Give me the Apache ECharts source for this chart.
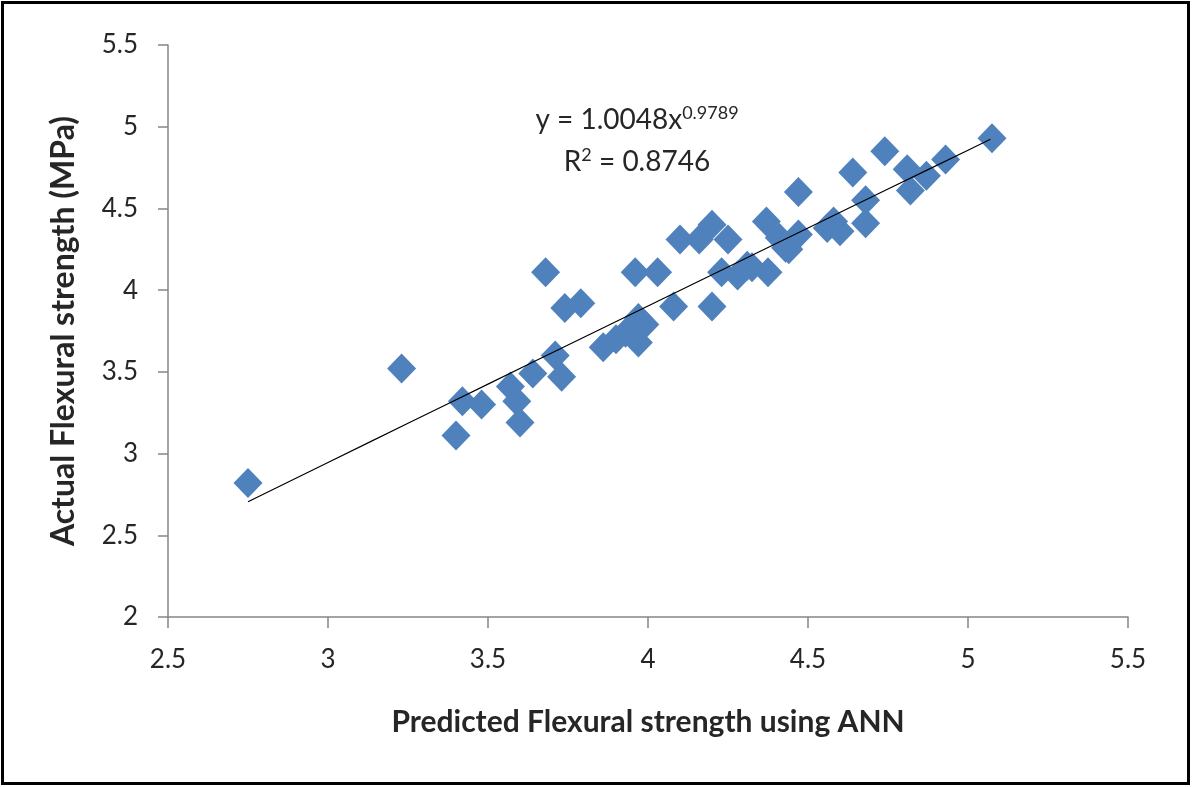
<!DOCTYPE html>
<html>
<head>
<meta charset="utf-8">
<script src="https://cdn.jsdelivr.net/npm/echarts@6/dist/echarts.min.js"></script>
<style>
  html, body { margin: 0; padding: 0; background: #fff; }
  #chart { width: 1192px; height: 787px; }
</style>
</head>
<body>
<div id="chart"></div>
<script>
// Predicted (ANN) vs actual flexural strength, MPa
const predicted = [
  2.75, 3.23, 3.40, 3.42, 3.48, 3.57, 3.59, 3.60, 3.64, 3.68,
  3.71, 3.73, 3.74, 3.79, 3.86, 3.90, 3.93, 3.97, 3.99, 3.97,
  3.96, 4.03, 4.08, 4.10, 4.16, 4.20, 4.25, 4.20, 4.23, 4.28,
  4.325, 4.375, 4.31, 4.37, 4.41, 4.44, 4.47, 4.47, 4.56, 4.60,
  4.58, 4.64, 4.68, 4.68, 4.74, 4.81, 4.82, 4.87, 4.93, 5.075,
  4.43
];
const actual = [
  2.82, 3.52, 3.11, 3.32, 3.30, 3.41, 3.32, 3.19, 3.49, 4.11,
  3.60, 3.47, 3.89, 3.92, 3.65, 3.70, 3.74, 3.83, 3.79, 3.68,
  4.11, 4.11, 3.90, 4.31, 4.31, 4.40, 4.31, 3.90, 4.11, 4.09,
  4.14, 4.11, 4.15, 4.42, 4.32, 4.25, 4.34, 4.60, 4.38, 4.36,
  4.42, 4.72, 4.55, 4.41, 4.85, 4.74, 4.61, 4.70, 4.80, 4.93,
  4.26
];

// Power trendline y = a * x^b, R² as reported
const fitA = 1.0048;
const fitB = 0.9789;
const fitR2 = 0.8746;
const trendXs = [2.75, 3.0, 3.25, 3.5, 3.75, 4.0, 4.25, 4.5, 4.75, 5.0, 5.07];

const xTicks = { min: 2.5, max: 5.5, interval: 0.5 };
const yTicks = { min: 2, max: 5.5, interval: 0.5 };

const points = predicted.map((x, i) => [x, actual[i]]);
const trend = trendXs.map(x => [x, fitA * Math.pow(x, fitB)]);

const font = 'Lato, "Open Sans", sans-serif';
const textColor = '#262626';
const axisGrey = '#868686';

const chart = echarts.init(document.getElementById('chart'), null, { renderer: 'canvas' });

const eqRich = {
  b: { fontFamily: font, fontSize: 28, fill: textColor },
  s: { fontFamily: font, fontSize: 18, fill: textColor, verticalAlign: 'top', padding: [0, 0, 14, 0] }
};

chart.setOption({
  backgroundColor: '#fff',
  animation: false,
  grid: { left: 168, top: 45, right: 64, bottom: 170, containLabel: false },
  xAxis: {
    type: 'value',
    min: xTicks.min, max: xTicks.max, interval: xTicks.interval,
    name: 'Predicted Flexural strength using ANN',
    nameLocation: 'middle',
    nameGap: 90,
    nameTextStyle: { fontFamily: font, fontSize: 30, fontWeight: 'bold', color: textColor },
    axisLine: { show: true, lineStyle: { color: axisGrey, width: 1.5 } },
    axisTick: { show: true, inside: false, length: 11, lineStyle: { color: axisGrey, width: 1.5 } },
    axisLabel: { fontFamily: font, fontSize: 26, color: textColor, margin: 30,
      formatter: v => String(v) },
    splitLine: { show: false }
  },
  yAxis: {
    type: 'value',
    min: yTicks.min, max: yTicks.max, interval: yTicks.interval,
    name: 'Actual Flexural strength (MPa)',
    nameLocation: 'middle',
    nameGap: 88,
    nameRotate: 90,
    nameTextStyle: { fontFamily: font, fontSize: 32, fontWeight: 'bold', color: textColor },
    axisLine: { show: true, lineStyle: { color: axisGrey, width: 1.5 } },
    axisTick: { show: true, inside: false, length: 10, lineStyle: { color: axisGrey, width: 1.5 } },
    axisLabel: { fontFamily: font, fontSize: 26, color: textColor, margin: 30,
      formatter: v => String(v) },
    splitLine: { show: false }
  },
  series: [
    {
      type: 'scatter',
      data: points,
      symbol: 'diamond',
      symbolSize: [29, 30],
      itemStyle: { color: '#4F81BD', opacity: 1 },
      z: 2
    },
    {
      type: 'line',
      data: trend,
      smooth: true,
      symbol: 'none',
      lineStyle: { color: '#000', width: 1.2 },
      z: 3
    }
  ],
  graphic: [
    {
      type: 'rect',
      shape: { x: 2.5, y: 2.5, width: 1186, height: 781 },
      style: { fill: 'none', stroke: '#000', lineWidth: 3 },
      silent: true
    },
    {
      type: 'text',
      x: 637, y: 120,
      style: {
        text: '{b|y = ' + fitA.toFixed(4) + 'x}{s|' + fitB.toFixed(4) + '}',
        align: 'center', verticalAlign: 'middle',
        rich: eqRich
      }
    },
    {
      type: 'text',
      x: 637, y: 162,
      style: {
        text: '{b|R}{s|2}{b| = ' + fitR2.toFixed(4) + '}',
        align: 'center', verticalAlign: 'middle',
        rich: eqRich
      }
    }
  ]
});
</script>
</body>
</html>
